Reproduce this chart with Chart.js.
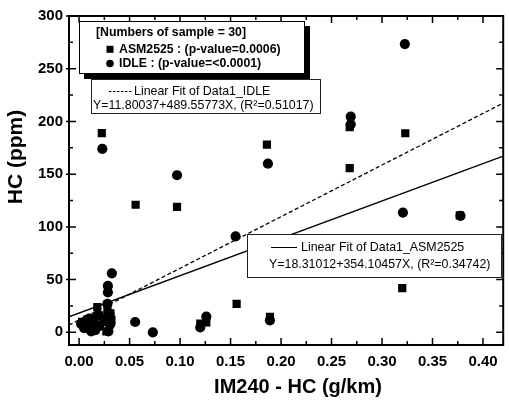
<!DOCTYPE html>
<html>
<head>
<meta charset="utf-8">
<script src="https://cdn.jsdelivr.net/npm/chart.js@4/dist/chart.umd.min.js"></script>
<style>
  html, body { margin: 0; padding: 0; background: #fff; }
  #wrap { width: 509px; height: 401px; position: relative; }
</style>
</head>
<body>
<div id="wrap"><canvas id="c"></canvas></div>
<script>
// IDLE test: IM240 HC (g/km) vs HC (ppm)
const idleX = [0.3226, 0.269, 0.269, 0.187, 0.097, 0.023, 0.155, 0.3207, 0.3777, 0.189,
               0.126, 0.120, 0.0555, 0.073, 0.0324, 0.0285, 0.0285, 0.019, 0.002, 0.005,
               0.008, 0.010, 0.012, 0.015, 0.016, 0.020, 0.028, 0.030, 0.031, 0.029];
const idleY = [273.4, 204.5, 197.3, 160, 149, 174, 91, 113.6, 110.5, 11.4,
               15, 4.7, 9.8, 0, 56, 44, 38, 16, 8, 4,
               12, 6, 1, 9, 2, 6, 27, 18, 8, 1];

// ASM2525 test
const asmX = [0.0225, 0.056, 0.097, 0.186, 0.268, 0.268, 0.323, 0.320, 0.377, 0.156,
              0.189, 0.126, 0.120, 0.018, 0.003, 0.005, 0.008, 0.010, 0.012, 0.014,
              0.015, 0.020, 0.024, 0.027, 0.028, 0.029, 0.030, 0.031, 0.032, 0.025];
const asmY = [189, 121, 119, 178, 155.7, 194.5, 188.8, 42, 111, 27,
              14.6, 9.5, 8.2, 24, 10, 6, 12, 4, 14, 8,
              2, 16, 10, 1, 22, 16, 7, 18, 12, 14];

// Linear fits: Y = A + B*X
const fitNames = ['Data1_IDLE', 'Data1_ASM2525'];
const fitA = [11.80037, 18.31012];
const fitB = [489.55773, 354.10457];
const fitR2 = ['0.51017', '0.34742'];
const pValues = ['0.0006', '<0.0001'];
const sampleCount = 30;

// Axis limits and ticks
const xRange = [-0.01, 0.42];
const yRange = [-12, 300];
const xStep = 0.05;
const yStep = 50;

const FONT = '"Liberation Sans", Arial, Helvetica, sans-serif';

const toPoints = (xs, ys) => xs.map((v, i) => ({ x: v, y: ys[i] }));
const fitPoints = i => xRange.map(v => ({ x: v, y: fitA[i] + fitB[i] * v }));

// Frame with inward ticks on all four sides, plus axis titles
const framePlugin = {
  id: 'frame',
  afterDatasetsDraw(chart) {
    const { ctx, chartArea: a, scales: { x, y } } = chart;
    ctx.save();
    ctx.strokeStyle = '#000';
    ctx.lineWidth = 1.5;
    ctx.beginPath();
    const xm = xStep / 2;
    for (let k = 0; k * xm <= xRange[1] + 1e-9; k++) {
      const px = x.getPixelForValue(k * xm);
      const len = k % 2 === 0 ? 7 : 4;
      ctx.moveTo(px, a.bottom); ctx.lineTo(px, a.bottom - len);
      ctx.moveTo(px, a.top); ctx.lineTo(px, a.top + len);
    }
    const ym = yStep / 2;
    for (let k = 0; k * ym <= yRange[1] + 1e-9; k++) {
      const py = y.getPixelForValue(k * ym);
      const major = k % 2 === 0;
      const len = major ? 7 : 4;
      ctx.moveTo(a.left - (major ? 3 : 0), py); ctx.lineTo(a.left + len, py);
      ctx.moveTo(a.right, py); ctx.lineTo(a.right - len, py);
    }
    ctx.stroke();
    ctx.lineWidth = 2;
    ctx.strokeRect(a.left, a.top, a.right - a.left, a.bottom - a.top);

    ctx.fillStyle = '#000';
    ctx.textAlign = 'center';
    ctx.textBaseline = 'middle';
    ctx.font = 'bold 20px ' + FONT;
    ctx.fillText('IM240 - HC (g/km)', 298, 387);
    ctx.save();
    ctx.translate(16, 157);
    ctx.rotate(-Math.PI / 2);
    ctx.font = 'bold 21px ' + FONT;
    ctx.fillText('HC (ppm)', 0, 0);
    ctx.restore();
    ctx.restore();
  }
};

// Legend boxes
const legendPlugin = {
  id: 'legendBoxes',
  afterDraw(chart) {
    const ctx = chart.ctx;
    ctx.save();
    ctx.textAlign = 'left';
    ctx.textBaseline = 'middle';
    ctx.fillStyle = '#000';

    // sample legend with drop shadow
    ctx.fillRect(84, 26, 226, 53);
    ctx.fillStyle = '#fff';
    ctx.fillRect(79, 21, 226, 53);
    ctx.strokeStyle = '#000';
    ctx.lineWidth = 1;
    ctx.strokeRect(79.5, 21.5, 225, 52);
    ctx.fillStyle = '#000';
    ctx.font = 'bold 12.3px ' + FONT;
    ctx.fillText('[Numbers of sample = ' + sampleCount + ']', 96, 33);
    ctx.fillRect(106.5, 45.8, 7, 7);
    ctx.fillText('ASM2525 : (p-value=' + pValues[0] + ')', 119, 49.5);
    ctx.beginPath();
    ctx.arc(110, 63.5, 3.8, 0, Math.PI * 2);
    ctx.fill();
    ctx.fillText('IDLE : (p-value=' + pValues[1] + ')', 119, 63.5);

    ctx.font = '12.4px ' + FONT;
    // IDLE fit legend
    ctx.fillStyle = '#fff';
    ctx.fillRect(91, 79, 230, 35);
    ctx.strokeStyle = '#222';
    ctx.strokeRect(91.5, 79.5, 229, 34);
    ctx.strokeStyle = '#000';
    ctx.setLineDash([2.5, 1.5]);
    ctx.beginPath(); ctx.moveTo(109, 91.5); ctx.lineTo(132, 91.5); ctx.stroke();
    ctx.setLineDash([]);
    ctx.fillStyle = '#000';
    ctx.fillText('Linear Fit of ' + fitNames[0], 134, 92);
    ctx.fillText('Y=' + fitA[0].toFixed(5) + '+' + fitB[0].toFixed(5) + 'X, (R\u00B2=' + fitR2[0] + ')', 93, 106);

    // ASM2525 fit legend
    ctx.fillStyle = '#fff';
    ctx.fillRect(247, 234, 255, 44);
    ctx.strokeStyle = '#222';
    ctx.strokeRect(247.5, 234.5, 254, 43);
    ctx.strokeStyle = '#000';
    ctx.beginPath(); ctx.moveTo(271, 247.5); ctx.lineTo(297, 247.5); ctx.stroke();
    ctx.fillStyle = '#000';
    ctx.fillText('Linear Fit of ' + fitNames[1], 301, 247.5);
    ctx.fillText('Y=' + fitA[1].toFixed(5) + '+' + fitB[1].toFixed(5) + 'X, (R\u00B2=' + fitR2[1] + ')', 269, 265);
    ctx.restore();
  }
};

new Chart(document.getElementById('c'), {
  type: 'scatter',
  data: {
    datasets: [
      {
        label: 'IDLE',
        data: toPoints(idleX, idleY),
        pointStyle: 'circle',
        pointRadius: 5.1,
        backgroundColor: '#000',
        borderColor: '#000',
        borderWidth: 0,
        order: 1
      },
      {
        label: 'ASM2525',
        data: toPoints(asmX, asmY),
        pointStyle: 'rect',
        pointRadius: 5.8,
        backgroundColor: '#000',
        borderColor: '#000',
        borderWidth: 0,
        order: 2
      },
      {
        label: 'Linear Fit of ' + fitNames[0],
        type: 'line',
        data: fitPoints(0),
        borderColor: '#000',
        borderWidth: 1.3,
        borderDash: [4, 2.5],
        pointRadius: 0,
        fill: false,
        order: 3
      },
      {
        label: 'Linear Fit of ' + fitNames[1],
        type: 'line',
        data: fitPoints(1),
        borderColor: '#000',
        borderWidth: 1.3,
        pointRadius: 0,
        fill: false,
        order: 4
      }
    ]
  },
  options: {
    responsive: true,
    maintainAspectRatio: false,
    animation: false,
    events: [],
    layout: { padding: { top: 16, right: 2, left: 0, bottom: 0 } },
    plugins: { legend: { display: false }, tooltip: { enabled: false } },
    scales: {
      x: {
        type: 'linear',
        min: xRange[0],
        max: xRange[1],
        grid: { display: false, drawTicks: false },
        border: { display: false },
        ticks: {
          stepSize: xStep,
          includeBounds: false,
          padding: 8,
          color: '#000',
          font: { family: FONT, size: 15, weight: 'bold' },
          maxRotation: 0,
          autoSkip: false,
          callback: v => v.toFixed(2)
        },
        afterFit: s => { s.height = 56; }
      },
      y: {
        type: 'linear',
        min: yRange[0],
        max: yRange[1],
        grid: { display: false, drawTicks: false },
        border: { display: false },
        ticks: {
          stepSize: yStep,
          includeBounds: false,
          padding: 6,
          color: '#000',
          font: { family: FONT, size: 15, weight: 'bold' },
          autoSkip: false,
          callback: v => String(v)
        },
        afterFit: s => { s.width = 69; }
      }
    }
  },
  plugins: [framePlugin, legendPlugin]
});
</script>
</body>
</html>
